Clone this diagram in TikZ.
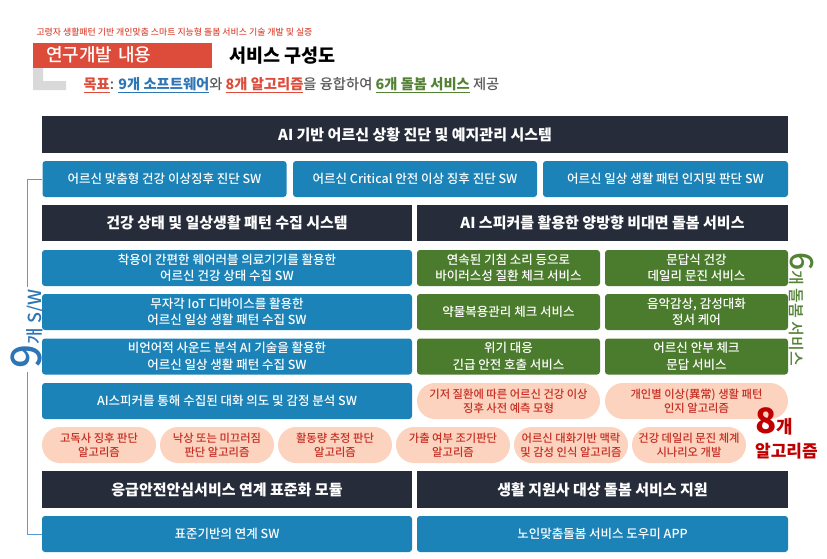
\documentclass[tikz,border=0pt]{standalone}
\usepackage{fontspec}
\setmainfont{Noto Sans CJK KR}
\newfontfamily\krmed{Noto Sans CJK KR Medium}
\usetikzlibrary{positioning}

\definecolor{barnavy}{HTML}{262C3A}
\definecolor{swblue}{HTML}{1B83B8}
\definecolor{svcgreen}{HTML}{4B7B2C}
\definecolor{algpeach}{HTML}{FBD3BE}
\definecolor{algred}{HTML}{C62D23}
\definecolor{hdred}{HTML}{DD4C3A}
\definecolor{lgray}{HTML}{D9D9D9}
\definecolor{linkblue}{HTML}{5B9BD5}
\definecolor{goalblue}{HTML}{2E75B6}
\definecolor{goalgreen}{HTML}{548235}
\definecolor{goalgray}{HTML}{595959}
\definecolor{bigred}{HTML}{C00000}

\begin{document}
\begin{tikzpicture}[x=1pt, y=-1pt,
    bar/.style={fill=barnavy, text=white, font=\bfseries\fontsize{15}{18}\selectfont, minimum height=37pt, inner sep=0pt},
    swbox/.style={fill=swblue, rounded corners=3pt, text=white, align=center, font=\krmed\fontsize{12.5}{16.5}\selectfont, minimum height=36pt, inner sep=0pt},
    svcbox/.style={swbox, fill=svcgreen},
    algpill/.style={fill=algpeach, text=algred, rounded corners=18pt, align=center, font=\krmed\fontsize{11.3}{14}\selectfont, minimum height=36pt, inner sep=0pt}]
            \useasboundingbox (0,0) rectangle (827,558);

            % Title block
            \node[anchor=west, text=hdred, font=\krmed\fontsize{8.9}{10}\selectfont] (subtitle) at (33,32) {고령자 생활패턴 기반 개인맞춤 스마트 지능형 돌봄 서비스 기술 개발 및 실증};
            \fill[lgray] (33,67) -- (43,67) -- (43,81) -- (66,81) -- (66,90) -- (33,90) -- cycle;
            \node[anchor=west, fill=hdred, text=white, minimum height=25pt, text width=153pt, inner xsep=13pt, inner ysep=0pt, font=\krmed\fontsize{18}{20}\selectfont] (rdtitle) at (33,55) {연구개발 내용};
            \node[anchor=west, font=\bfseries\fontsize{18.5}{20}\selectfont] (svctitle) at (226,56) {서비스 구성도};
            \node[anchor=west, font=\krmed\fontsize{14.3}{16}\selectfont] (goal) at (80,85) {{\bfseries\color{hdred}\underline{목표}}{\color{goalgray}:} {\bfseries\color{goalblue}\underline{9개 소프트웨어}}{\color{goalgray}와} {\bfseries\color{hdred}\underline{8개 알고리즘}}{\color{goalgray}을 융합하여} {\bfseries\color{goalgreen}\underline{6개 돌봄 서비스}} {\color{goalgray}제공}};

            % Top system and diagnosis SW
            \node[bar, minimum width=746pt] (top) at (415,134.5) {AI 기반 어르신 상황 진단 및 예지관리 시스템};
            \node[swbox, minimum width=244pt] (diag1) at (164.5,179) {어르신 맞춤형 건강 이상징후 진단 SW};
            \node[swbox, minimum width=244pt] (diag2) at (415,179) {어르신 Critical 안전 이상 징후 진단 SW};
            \node[swbox, minimum width=245pt] (diag3) at (665.5,179) {어르신 일상 생활 패턴 인지및 판단 SW};

            % Two subsystems
            \node[bar, minimum width=370pt, minimum height=36pt] (collect) at (227,223) {건강 상태 및 일상생활 패턴 수집 시스템};
            \node[bar, minimum width=371pt, minimum height=36pt] (speaker) at (602.5,223) {AI 스피커를 활용한 양방향 비대면 돌봄 서비스};

            \node[swbox, minimum width=370pt] (sw1) at (227,268) {착용이 간편한 웨어러블 의료기기를 활용한\\어르신 건강 상태 수집 SW};
            \node[swbox, minimum width=370pt] (sw2) at (227,312) {무자각 IoT 디바이스를 활용한\\어르신 일상 생활 패턴 수집 SW};
            \node[swbox, minimum width=370pt] (sw3) at (227,356.5) {비언어적 사운드 분석 AI 기술을 활용한\\어르신 일상 생활 패턴 수집 SW};
            \node[swbox, minimum width=370pt] (sw4) at (227,401) {AI스피커를 통해 수집된 대화 의도 및 감정 분석 SW};

            \node[svcbox, minimum width=183pt] (svc1) at (508.5,268) {연속된 기침 소리 등으로\\바이러스성 질환 체크 서비스};
            \node[svcbox, minimum width=183pt] (svc2) at (696.5,268) {문답식 건강\\데일리 문진 서비스};
            \node[svcbox, minimum width=183pt] (svc3) at (508.5,312) {약물복용관리 체크 서비스};
            \node[svcbox, minimum width=183pt] (svc4) at (696.5,312) {음악감상, 감성대화\\정서 케어};
            \node[svcbox, minimum width=183pt] (svc5) at (508.5,356.5) {위기 대응\\긴급 안전 호출 서비스};
            \node[svcbox, minimum width=183pt] (svc6) at (696.5,356.5) {어르신 안부 체크\\문답 서비스};

            % Algorithms
            \node[algpill, minimum width=183pt] (alg1) at (508.5,401) {기저 질환에 따른 어르신 건강 이상\\징후 사전 예측 모형};
            \node[algpill, minimum width=183pt] (alg2) at (696.5,401) {개인별 이상(異常) 생활 패턴\\인지 알고리즘};
            \node[algpill, minimum width=114pt] (alg3) at (99,445) {고독사 징후 판단\\알고리즘};
            \node[algpill, minimum width=114pt] (alg4) at (217,445) {낙상 또는 미끄러짐\\판단 알고리즘};
            \node[algpill, minimum width=114pt] (alg5) at (335,445) {활동량 추정 판단\\알고리즘};
            \node[algpill, minimum width=114pt] (alg6) at (453,445) {가출 여부 조기판단\\알고리즘};
            \node[algpill, minimum width=114pt] (alg7) at (571,445) {어르신 대화기반 맥락\\및 감성 인식 알고리즘};
            \node[algpill, minimum width=114pt] (alg8) at (689,445) {건강 데일리 문진 체계\\시나리오 개발};

            % Support modules
            \node[bar, minimum width=370pt] (emerg) at (227,489.5) {응급안전안심서비스 연계 표준화 모듈};
            \node[bar, minimum width=371pt] (support) at (602.5,489.5) {생활 지원사 대상 돌봄 서비스 지원};
            \node[swbox, minimum width=370pt] (link) at (227,534) {표준기반의 연계 SW};
            \node[swbox, minimum width=371pt] (app) at (602.5,534) {노인맞춤돌봄 서비스 도우미 APP};

            % Side counts
            \node[rotate=90, anchor=base, text=goalblue, font=\krmed, inner sep=3pt] (swlab) at (41,329) {{\fontsize{42}{42}\selectfont 9}{\fontsize{18}{18}\selectfont 개 S/W}};
            \draw[linkblue, semithick] (diag1.west) -| (swlab.east);
            \draw[linkblue, semithick] (link.west) -| (swlab.west);
            \node[rotate=-90, anchor=base, text=goalgreen, font=\krmed] (carelab) at (790,309) {{\fontsize{32}{32}\selectfont 6}{\fontsize{16}{16}\selectfont 개 돌봄 서비스}};
            \node[anchor=base west, text=bigred, font=\bfseries, inner sep=0pt] (algnum) at (755,433) {{\fontsize{35}{35}\selectfont 8}{\fontsize{18}{18}\selectfont 개}};
            \node[anchor=base west, text=bigred, font=\bfseries\fontsize{17}{20}\selectfont, inner sep=0pt] (algword) at (755,457) {알고리즘};

        \end{tikzpicture}
\end{document}
